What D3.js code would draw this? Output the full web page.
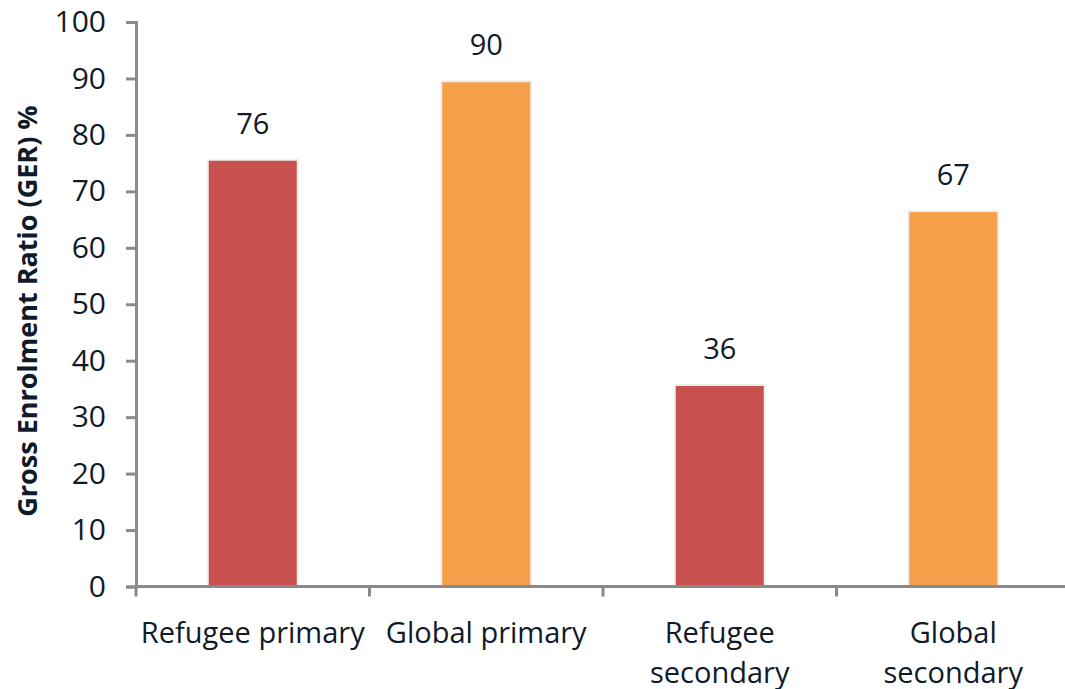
<!DOCTYPE html>
<html><head><meta charset="utf-8">
<script src="https://cdn.jsdelivr.net/npm/d3@7"></script>
<style>body{margin:0;background:#fff}</style>
</head><body>
<svg id="c" width="1065" height="689"></svg>
<script>
const categories = ["Refugee primary", "Global primary", "Refugee secondary", "Global secondary"];
const categoryLines = [["Refugee primary"], ["Global primary"], ["Refugee", "secondary"], ["Global", "secondary"]];
const values = [75.6, 89.5, 35.7, 66.5];
const valueLabels = ["76", "90", "36", "67"];
const colors = ["#c8504f", "#f7a04b", "#c8504f", "#f7a04b"];
const yTicks = [0,10,20,30,40,50,60,70,80,90,100];
const yTitle = "Gross Enrolment Ratio (GER) %";

const svg = d3.select("#c");
const font = "'Open Sans', sans-serif";
const textColor = "#0f1a2a";
const axisColor = "#8a898e";
const mLeft = 136, mRight = 1070, mTop = 22, mBottom = 586.5;

const x = d3.scaleBand().domain(categories).range([mLeft, mRight]).paddingInner(0).paddingOuter(0);
const y = d3.scaleLinear().domain([0, 100]).range([mBottom, mTop]);
const barW = 90;

// bars
svg.selectAll("rect.bar").data(categories).join("rect")
  .attr("class","bar")
  .attr("x", d => x(d) + x.bandwidth()/2 - barW/2)
  .attr("y", (d,i) => y(values[i]))
  .attr("width", barW)
  .attr("height", (d,i) => y(0) - y(values[i]))
  .attr("fill", (d,i) => colors[i])
  .attr("stroke", "#efefef").attr("stroke-width", 2);

// value labels
svg.selectAll("text.val").data(categories).join("text")
  .attr("class","val")
  .attr("x", d => x(d) + x.bandwidth()/2)
  .attr("y", (d,i) => y(values[i]) - 26)
  .attr("text-anchor","middle")
  .attr("font-family", font).attr("font-size", 29).attr("fill", textColor)
  .text((d,i) => valueLabels[i]);

// y axis
const yAxis = svg.append("g").attr("transform", `translate(${mLeft},0)`)
  .call(d3.axisLeft(y).tickValues(yTicks).tickSize(10).tickPadding(20));
yAxis.select(".domain").attr("stroke", axisColor).attr("stroke-width", 3);
yAxis.selectAll(".tick line").attr("stroke", axisColor).attr("stroke-width", 3);
yAxis.selectAll(".tick text").attr("font-family", font).attr("font-size", 30).attr("fill", textColor);

// x axis
const xAxis = svg.append("g").attr("transform", `translate(0,${mBottom})`);
xAxis.append("line").attr("x1", mLeft).attr("x2", 1065).attr("y1", 0).attr("y2", 0)
  .attr("stroke", axisColor).attr("stroke-width", 3);
const bounds = categories.map(d => x(d));
xAxis.selectAll("line.tk").data(bounds).join("line")
  .attr("class","tk")
  .attr("x1", d => d).attr("x2", d => d).attr("y1", 0).attr("y2", 10)
  .attr("stroke", axisColor).attr("stroke-width", 3);

const lab = svg.selectAll("text.cat").data(categories).join("text")
  .attr("class","cat")
  .attr("text-anchor","middle")
  .attr("font-family", font).attr("font-size", 29).attr("fill", textColor);
lab.each(function(d,i){
  const t = d3.select(this);
  categoryLines[i].forEach((ln, j) => {
    t.append("tspan").attr("x", x(d) + x.bandwidth()/2).attr("y", 643 + j*40).text(ln);
  });
});

// y title
svg.append("text")
  .attr("transform", `translate(37,311) rotate(-90)`)
  .attr("text-anchor","middle")
  .attr("font-family", font).attr("font-weight", "bold").attr("font-size", 27).attr("fill", textColor)
  .text(yTitle);
</script>
</body></html>
